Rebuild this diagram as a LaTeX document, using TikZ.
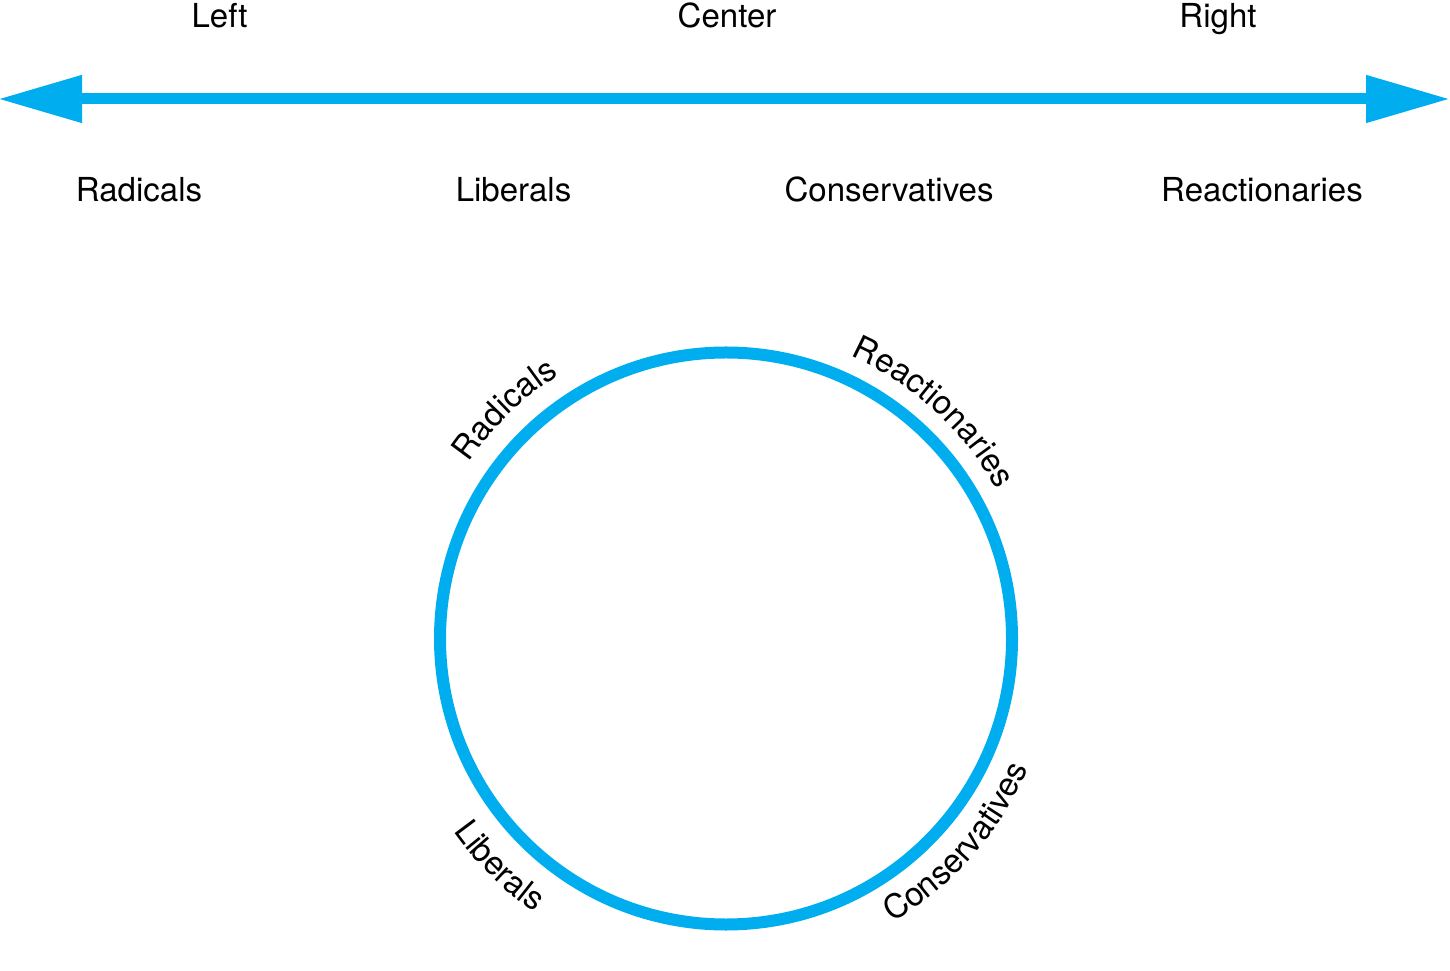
\documentclass[tikz,border=0pt]{standalone}
\usepackage{fontspec}
\setmainfont{TeX Gyre Heros}
\usetikzlibrary{arrows.meta,decorations.text}
\definecolor{skyline}{HTML}{00AEEF}
\newcommand\labelfont{\fontsize{9.4}{11}\selectfont}
\tikzset{
	spectrum/.style={line width=0.11cm,skyline,{Triangle[length=0.84cm,width=0.45cm]}-{Triangle[length=0.84cm,width=0.45cm]}},
	ring/.style={line width=0.12cm,skyline},
	axislabel/.style={font=\labelfont,anchor=base,inner sep=0pt},
	arclabel/.style={decorate,decoration={text along path,text={|\labelfont|#1},text align=center}}
}
\begin{document}
\begin{tikzpicture}[line join=round]
			\useasboundingbox (0,0) rectangle (14.5,9.7);
			\coordinate (leftend) at (-0.02,8.71);
			\coordinate (rightend) at (14.5,8.71);
			\draw[spectrum] (leftend)--(rightend);
			\node[axislabel] (left) at (2.195,9.425) {Left};
			\node[axislabel] (center) at (7.27,9.425) {Center};
			\node[axislabel] (right) at (12.18,9.425) {Right};
			\node[axislabel] (radicals) at (1.39,7.68) {Radicals};
			\node[axislabel] (liberals) at (5.135,7.68) {Liberals};
			\node[axislabel] (conservatives) at (8.89,7.68) {Conservatives};
			\node[axislabel] (reactionaries) at (12.62,7.68) {Reactionaries};
			% the same four groups round the ring
			\coordinate (hub) at (7.26,3.315);
			\draw[ring] (hub) circle(2.86);
			\path[arclabel=Radicals] (hub) ++(174:3.12) arc[start angle=174,end angle=94,radius=3.12];
			\path[arclabel=Reactionaries] (hub) ++(87.5:3.09) arc[start angle=87.5,end angle=7.5,radius=3.09];
			\path[arclabel=Liberals] (hub) ++(185.2:3.34) arc[start angle=185.2,end angle=265.2,radius=3.34];
			\path[arclabel=Conservatives] (hub) ++(-81.5:3.29) arc[start angle=-81.5,end angle=-1.5,radius=3.29];
	\end{tikzpicture}
\end{document}
